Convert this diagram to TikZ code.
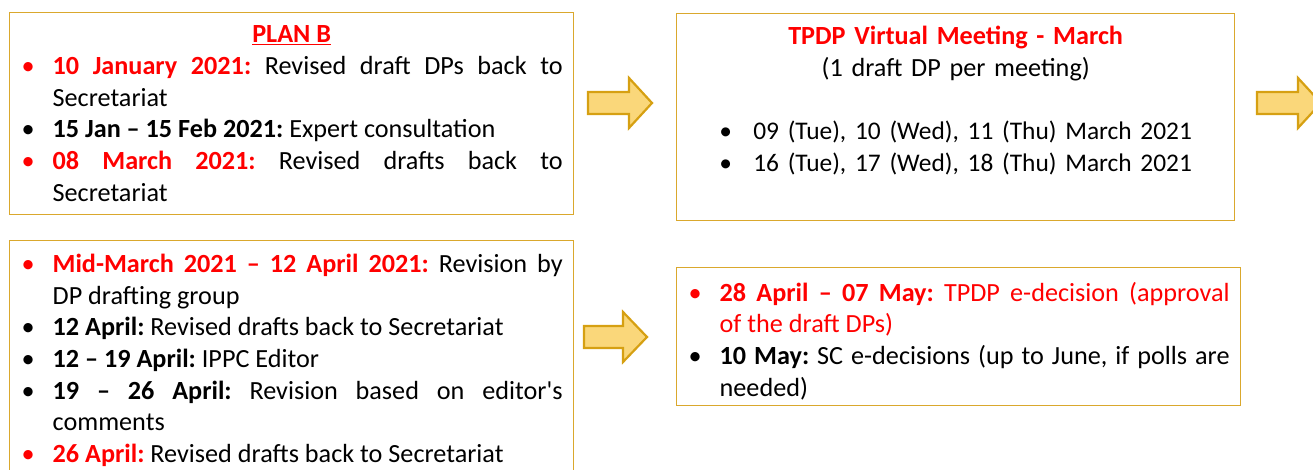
\documentclass[tikz,border=0pt]{standalone}
\usepackage{fontspec}
\setmainfont{Carlito}
\usetikzlibrary{positioning}
\definecolor{boxgold}{RGB}{218,168,45}
\definecolor{arrowline}{RGB}{214,160,18}
\definecolor{arrowfill}{RGB}{250,215,122}
\definecolor{alertred}{RGB}{255,0,0}
\hyphenpenalty=10000\relax
\tolerance=10000\relax
\frenchspacing
% bullet items, red or black
\newcommand{\ritem}[1]{\par\hangindent=32pt\hangafter=1\noindent\makebox[32pt][l]{\hspace*{1pt}\color{alertred}\textbullet}{\bfseries\color{alertred}#1}}
\newcommand{\kitem}[1]{\par\hangindent=32pt\hangafter=1\noindent\makebox[32pt][l]{\hspace*{1pt}\textbullet}{\bfseries #1}}
\tikzset{
  box/.style={draw=boxgold, line width=1.3pt, anchor=north west, inner xsep=11pt,
    inner ysep=0pt, text width=542pt, align=justify,
    font=\fontsize{26.2}{31.7}\selectfont},
  blockarrow/.style={draw=arrowline, fill=arrowfill, line width=2.2pt, line join=miter}
}
\begin{document}
\begin{tikzpicture}[x=1pt, y=1pt]
  \useasboundingbox (0,0) rectangle (1313,-470);
  % Plan B box
  \node[box, minimum width=564pt, minimum height=202pt] (planb) at (9,-12) {%
    \noindent\hfill{\bfseries\color{alertred}\underline{PLAN B}}\hfill\null
    \ritem{10 January 2021:} Revised draft DPs back to\linebreak Secretariat
    \kitem{15 Jan -- 15 Feb 2021:} Expert consultation
    \ritem{08 March 2021:} Revised drafts back to\linebreak Secretariat\par};
  % Revision box
  \node[box, minimum width=564pt, minimum height=240pt] (revision) at (9,-240) {%
    \ritem{Mid-March 2021 -- 12 April 2021:} Revision by\linebreak DP drafting group
    \kitem{12 April:} Revised drafts back to Secretariat
    \kitem{12 -- 19 April:} IPPC Editor
    \kitem{19 -- 26 April:} Revision based on editor\textquotesingle s\linebreak comments
    \ritem{26 April:} Revised drafts back to Secretariat\par
    \nointerlineskip\noindent\rule{0pt}{14pt}\par};
  % Virtual meeting box
  \node[box, text width=536pt, align=center, minimum width=558pt, minimum height=207pt] (meeting) at (676,-13) {%
    {\bfseries\color{alertred}TPDP Virtual Meeting - March}\\
    (1 draft DP per meeting)\\
    \mbox{}\\
    {\fontsize{25.4}{31.7}\selectfont\makebox[34pt][l]{\textbullet}09 (Tue), 10 (Wed), 11 (Thu) March 2021}\\
    {\fontsize{25.4}{31.7}\selectfont\makebox[34pt][l]{\textbullet}16 (Tue), 17 (Wed), 18 (Thu) March 2021}\\
    \mbox{}\\[-27pt]\mbox{}};
  % e-decision box
  \node[box, minimum width=564pt, minimum height=138pt] (decision) at (676,-267) {%
    \ritem{28 April -- 07 May:} {\color{alertred}TPDP e-decision (approval\linebreak of the draft DPs)}
    \kitem{10 May:} SC e-decisions (up to June, if polls are\linebreak needed)\par
    \nointerlineskip\noindent\rule{0pt}{4pt}\par};
  % Block arrows
  \foreach \xs/\xh/\xt/\yc in {588/629/652/-103, 584/623/647/-337, 1257/1298/1321/-103}
    \draw[blockarrow] (\xs,\yc+11) -- (\xh,\yc+11) -- (\xh,\yc+25) -- (\xt,\yc)
      -- (\xh,\yc-25) -- (\xh,\yc-11) -- (\xs,\yc-11) -- cycle;
\end{tikzpicture}
\end{document}
